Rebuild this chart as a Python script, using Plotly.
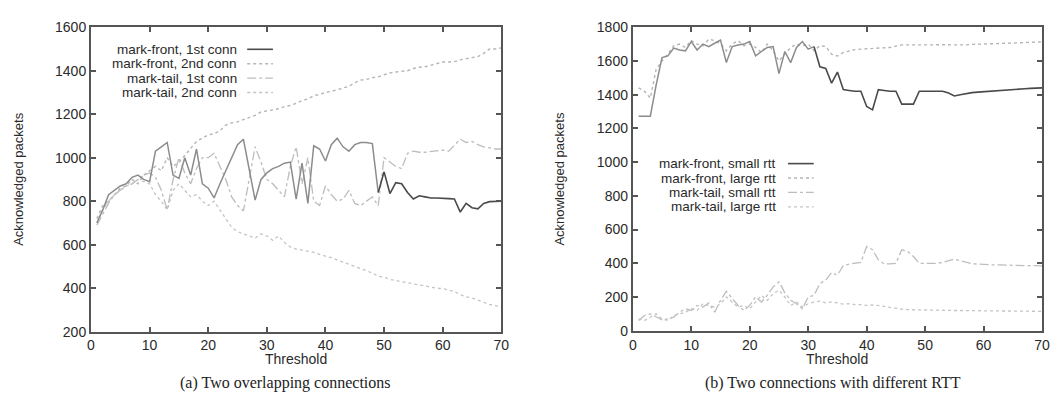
import plotly.graph_objects as go

W, H = 1058, 405

threshold = list(range(1, 71))

# (a) Two overlapping connections
front_1st = [700, 760, 830, 850, 870, 880, 910, 920, 900, 890,
             1030, 1050, 1070, 920, 905, 1000, 920, 1040, 880, 860,
             815, 880, 940, 1000, 1060, 1085, 950, 805, 900, 930,
             950, 960, 975, 980, 810, 975, 790, 1055, 1040, 985,
             1060, 1090, 1050, 1030, 1060, 1070, 1070, 1065, 840, 935,
             835, 885, 880, 840, 810, 825, 820, 815, 815, 812,
             812, 810, 750, 790, 770, 765, 790, 798, 800, 800]
front_2nd = [720, 780, 800, 830, 860, 870, 900, 880, 920, 940,
             960, 940, 1000, 960, 980, 1010, 1040, 1075, 1090, 1105,
             1110, 1125, 1150, 1160, 1165, 1175, 1185, 1195, 1210, 1215,
             1220, 1225, 1235, 1240, 1250, 1262, 1270, 1285, 1291, 1300,
             1305, 1312, 1320, 1328, 1345, 1357, 1360, 1368, 1372, 1380,
             1390, 1394, 1396, 1400, 1410, 1416, 1418, 1425, 1432, 1440,
             1440, 1442, 1450, 1455, 1460, 1465, 1480, 1500, 1500, 1505]
tail_1st = [690, 740, 790, 830, 850, 870, 880, 900, 920, 930,
            910, 850, 760, 900, 1000, 930, 880, 950, 1000, 1000,
            1020, 960, 900, 820, 780, 755, 900, 1050, 980, 900,
            880, 850, 820, 960, 1050, 880, 1000, 800, 780, 870,
            830, 800, 810, 850, 790, 780, 800, 820, 780, 1000,
            980, 960, 950, 1020, 1030, 1025, 1025, 1028, 1030, 1035,
            1030, 1060, 1085, 1070, 1075, 1060, 1050, 1045, 1040, 1040]
tail_2nd = [700, 760, 800, 830, 850, 870, 880, 900, 890, 880,
            830, 800, 760, 850, 880, 850, 820, 830, 800, 780,
            800, 760, 720, 680, 660, 650, 640, 630, 650, 640,
            620, 640, 610, 590, 580, 575, 570, 565, 555, 548,
            540, 530, 520, 510, 500, 490, 480, 470, 455, 450,
            440, 435, 428, 422, 418, 412, 408, 404, 400, 398,
            392, 385, 370, 360, 355, 345, 335, 325, 320, 315]

# (b) Two connections with different RTT
front_small = [1272, 1272, 1272, 1458, 1620, 1630, 1676, 1665, 1660, 1715,
               1665, 1700, 1685, 1705, 1724, 1591, 1685, 1695, 1700, 1715,
               1630, 1656, 1680, 1685, 1525, 1656, 1590, 1680, 1715, 1670,
               1685, 1565, 1555, 1468, 1534, 1430, 1425, 1420, 1420, 1330,
               1310, 1430, 1425, 1420, 1420, 1344, 1344, 1344, 1420, 1420,
               1418, 1420, 1420, 1410, 1392, 1400, 1408, 1412, 1415, 1418,
               1420, 1422, 1425, 1428, 1430, 1432, 1435, 1437, 1438, 1440]
front_large = [1440, 1420, 1380, 1550, 1600, 1640, 1690, 1700, 1680, 1720,
               1700, 1690, 1730, 1720, 1700, 1660, 1700, 1720, 1690, 1700,
               1680, 1650, 1700, 1660, 1600, 1640, 1680, 1700, 1690, 1700,
               1660, 1690, 1686, 1640, 1629, 1650, 1660, 1667, 1670, 1672,
               1675, 1676, 1676, 1680, 1688, 1695, 1695, 1694, 1695, 1695,
               1695, 1696, 1695, 1694, 1696, 1695, 1695, 1698, 1700, 1700,
               1702, 1703, 1704, 1705, 1706, 1708, 1710, 1711, 1712, 1713]
tail_small = [60, 90, 100, 80, 65, 70, 80, 110, 130, 120,
              150, 140, 165, 110, 180, 234, 190, 150, 120, 150,
              200, 170, 210, 260, 290, 225, 180, 160, 130, 200,
              210, 280, 300, 345, 330, 386, 395, 400, 405, 500,
              480, 420, 396, 396, 400, 480, 470, 440, 400, 400,
              400, 400, 405, 415, 425, 415, 405, 398, 395, 392,
              390, 390, 390, 388, 388, 387, 386, 386, 385, 385]
tail_large = [70, 60, 80, 100, 70, 60, 90, 100, 110, 130,
              120, 160, 150, 140, 160, 200, 170, 140, 150, 130,
              170, 210, 180, 220, 240, 200, 150, 170, 140, 160,
              170, 175, 165, 170, 165, 158, 160, 155, 155, 150,
              153, 150, 145, 138, 132, 128, 125, 124, 122, 122,
              121, 121, 120, 120, 120, 120, 119, 119, 119, 118,
              118, 118, 117, 117, 117, 116, 116, 115, 115, 115]

x_ticks = [0, 10, 20, 30, 40, 50, 60, 70]
ya_ticks = [200, 400, 600, 800, 1000, 1200, 1400, 1600]
yb_ticks = [0, 200, 400, 600, 800, 1000, 1200, 1400, 1600, 1800]

legend_a = ["mark-front, 1st conn", "mark-front, 2nd conn",
            "mark-tail, 1st conn", "mark-tail, 2nd conn"]
legend_b = ["mark-front, small rtt", "mark-front, large rtt",
            "mark-tail, small rtt", "mark-tail, large rtt"]

styles = [dict(color="#4a4a4a", width=1.6, dash="solid"),
          dict(color="#b5b5b5", width=1.4, dash="dot"),
          dict(color="#bdbdbd", width=1.3, dash="dashdot"),
          dict(color="#c4c4c4", width=1.3, dash="dot")]
faded_solid = dict(color="#8c8c8c", width=1.5, dash="solid")

fig = go.Figure()

series_a = [front_1st, front_2nd, tail_1st, tail_2nd]
series_b = [front_small, front_large, tail_small, tail_large]
split_a = 48   # solid line prints darker from threshold 49 on (scan look)
split_b = 30   # and from threshold 31 on in panel (b)

for idx in [1, 2, 3]:
    fig.add_trace(go.Scatter(x=threshold, y=series_a[idx], mode="lines",
                             line=styles[idx], xaxis="x", yaxis="y",
                             name=legend_a[idx], showlegend=False))
fig.add_trace(go.Scatter(x=threshold[:split_a + 1], y=front_1st[:split_a + 1], mode="lines",
                         line=faded_solid, xaxis="x", yaxis="y",
                         name=legend_a[0], showlegend=False))
fig.add_trace(go.Scatter(x=threshold[split_a:], y=front_1st[split_a:], mode="lines",
                         line=styles[0], xaxis="x", yaxis="y",
                         name=legend_a[0], showlegend=False))

for idx in [1, 2, 3]:
    fig.add_trace(go.Scatter(x=threshold, y=series_b[idx], mode="lines",
                             line=styles[idx], xaxis="x2", yaxis="y2",
                             name=legend_b[idx], showlegend=False))
fig.add_trace(go.Scatter(x=threshold[:split_b + 1], y=front_small[:split_b + 1], mode="lines",
                         line=faded_solid, xaxis="x2", yaxis="y2",
                         name=legend_b[0], showlegend=False))
fig.add_trace(go.Scatter(x=threshold[split_b:], y=front_small[split_b:], mode="lines",
                         line=styles[0], xaxis="x2", yaxis="y2",
                         name=legend_b[0], showlegend=False))


def px(v):
    return v / W


def py(v):
    return 1 - v / H


font = dict(family="Liberation Sans, Arial, sans-serif", size=14, color="#2a2a2a")
axis_common = dict(showline=True, linecolor="#555", linewidth=2, mirror="ticks",
                   ticks="inside", ticklen=5, tickwidth=1.5, tickcolor="#555",
                   showgrid=False, zeroline=False, tickfont=font, fixedrange=True)

fig.update_layout(
    width=W, height=H,
    margin=dict(l=0, r=0, t=0, b=0),
    paper_bgcolor="white", plot_bgcolor="white",
    xaxis=dict(domain=[px(88), px(503)], range=[0, 70], tickvals=x_ticks,
               anchor="y", **axis_common),
    yaxis=dict(domain=[py(337), py(20)], range=[200, 1600], tickvals=ya_ticks,
               anchor="x", **axis_common),
    xaxis2=dict(domain=[px(636), px(1050)], range=[0, 70], tickvals=x_ticks,
                anchor="y2", **axis_common),
    yaxis2=dict(domain=[py(336), py(20)], range=[0, 1800], tickvals=yb_ticks,
                anchor="x2", **axis_common),
)


def text_at(x, y, text, size=14, xanchor="center", angle=0, f=None):
    return dict(x=px(x), y=py(y), text=text, textangle=angle, showarrow=False,
                xref="paper", yref="paper", xanchor=xanchor, yanchor="middle",
                font=dict(f or font, size=size))


ann = []
ann.append(text_at(15, 178, "Acknowledged packets", size=13, angle=-90))
ann.append(text_at(562, 178, "Acknowledged packets", size=13, angle=-90))
ann.append(text_at(295, 365, "Threshold", size=14))
ann.append(text_at(843, 365, "Threshold", size=14))

cap_font = dict(family="Liberation Serif, Times New Roman, serif", size=16, color="#222")
ann.append(text_at(285, 390, "(a) Two overlapping connections", size=16, f=cap_font))
ann.append(text_at(839, 390, "(b) Two connections with different RTT", size=16, f=cap_font))

shapes = []
leg_rows_a = [43, 58, 73, 88]
leg_rows_b = [162, 177, 192, 207]
for i in range(4):
    ann.append(text_at(238, leg_rows_a[i], legend_a[i], size=13.5, xanchor="right"))
    shapes.append(dict(type="line", xref="paper", yref="paper",
                       x0=px(246), x1=px(272), y0=py(leg_rows_a[i]), y1=py(leg_rows_a[i]),
                       line=styles[i]))
    ann.append(text_at(783, leg_rows_b[i], legend_b[i], size=13.5, xanchor="right"))
    shapes.append(dict(type="line", xref="paper", yref="paper",
                       x0=px(793), x1=px(819), y0=py(leg_rows_b[i]), y1=py(leg_rows_b[i]),
                       line=styles[i]))

fig.update_layout(annotations=ann, shapes=shapes)

fig.write_html("out.html",
               post_script="document.body.style.margin='0';document.body.style.overflow='hidden';")
